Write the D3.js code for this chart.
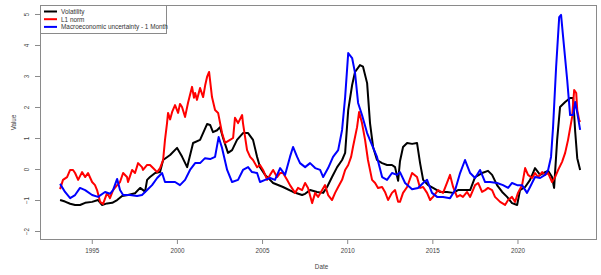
<!DOCTYPE html>
<html><head><meta charset="utf-8">
<script src="https://cdn.jsdelivr.net/npm/d3@7"></script>
<style>body{margin:0;background:#fff}svg{display:block;font-family:"Liberation Sans",Arial,sans-serif}</style>
</head><body><svg id="c" width="601" height="275"></svg>
<script>
const seriesNames = ["Volatility", "L1 norm", "Macroeconomic uncertainty - 1 Month"];
const seriesColors = ["#000000", "#ff0000", "#0000ff"];
const xTicks = [1995, 2000, 2005, 2010, 2015, 2020];
const yTicks = [-2, -1, 0, 1, 2, 3, 4, 5];

const volatility = [
[1993.14,-1.0],[1993.43,-1.05],[1993.73,-1.12],[1994.02,-1.16],[1994.31,-1.16],[1994.61,-1.09],[1995.02,-1.06],
[1995.37,-1.0],[1995.60,-1.16],[1995.90,-1.11],[1996.20,-1.09],[1996.49,-1.0],[1996.78,-0.87],[1997.13,-0.84],
[1997.54,-0.78],[1997.84,-0.61],[1998.13,-0.73],[1998.25,-0.35],[1998.42,-0.26],[1998.72,-0.13],[1999.01,-0.10],
[1999.19,0.29],[1999.60,0.45],[2000.01,0.68],[2000.30,0.40],[2000.60,0.06],[2000.95,0.84],[2001.36,0.94],
[2001.77,1.45],[2001.95,1.42],[2002.12,1.19],[2002.36,1.25],[2002.53,1.35],[2002.71,1.0],[2003.00,0.52],
[2003.24,0.61],[2003.53,0.94],[2003.88,1.16],[2004.18,1.16],[2004.47,0.94],[2004.71,0.39],[2004.88,0.06],
[2005.18,-0.19],[2005.65,-0.45],[2006.23,-0.58],[2006.82,-0.74],[2007.35,-0.84],[2007.53,-0.80],[2007.82,-0.68],
[2008.23,-0.74],[2008.59,-0.77],[2008.82,-0.58],[2009.11,-0.26],[2009.41,0.06],[2009.70,0.29],[2009.88,0.52],
[2010.06,1.9],[2010.29,2.71],[2010.46,3.13],[2010.75,3.35],[2010.93,3.30],[2011.17,2.77],[2011.34,1.48],
[2011.52,0.71],[2011.75,0.29],[2012.05,0.19],[2012.34,0.13],[2012.63,0.13],[2012.81,0.06],[2012.99,-0.38],
[2013.10,0.25],[2013.28,0.71],[2013.52,0.84],[2013.81,0.81],[2014.10,0.84],[2014.28,0.19],[2014.46,-0.35],
[2014.75,-0.52],[2015.04,-0.61],[2015.45,-0.74],[2015.86,-0.74],[2016.22,-0.77],[2016.51,-0.68],[2016.92,-0.68],
[2017.22,-0.68],[2017.51,-0.26],[2017.92,-0.13],[2018.27,-0.06],[2018.51,-0.19],[2018.80,-0.52],[2019.10,-0.74],
[2019.39,-0.9],[2019.68,-1.1],[2019.98,-1.16],[2020.15,-0.68],[2020.45,-0.58],[2020.74,-0.35],[2021.03,0.03],
[2021.33,-0.19],[2021.62,-0.10],[2021.80,-0.06],[2022.03,-0.26],[2022.15,-0.61],[2022.33,0.94],[2022.50,2.0],
[2022.80,2.16],[2023.09,2.29],[2023.27,2.29],[2023.39,1.2],[2023.51,0.35],[2023.68,-0.03]
];

const l1norm = [
[1993.14,-0.65],[1993.31,-0.35],[1993.55,-0.26],[1993.73,-0.03],[1993.90,-0.03],[1994.02,-0.13],[1994.20,-0.35],
[1994.43,-0.10],[1994.61,-0.26],[1994.78,-0.13],[1995.02,-0.42],[1995.19,-0.52],[1995.31,-0.68],[1995.49,-1.06],
[1995.66,-1.13],[1995.90,-0.77],[1996.07,-0.94],[1996.25,-0.68],[1996.49,-0.52],[1996.66,-0.42],[1996.84,-0.13],
[1997.07,-0.26],[1997.13,-0.42],[1997.37,-0.03],[1997.54,-0.13],[1997.72,0.19],[1997.95,0.06],[1998.01,-0.03],
[1998.25,0.13],[1998.42,0.13],[1998.60,0.03],[1998.84,-0.10],[1999.01,0.03],[1999.19,0.29],[1999.30,0.94],
[1999.42,1.48],[1999.48,1.81],[1999.60,1.6],[1999.72,1.84],[1999.89,2.06],[2000.07,1.81],[2000.18,2.1],[2000.30,2.0],[2000.48,1.68],
[2000.65,2.13],[2000.89,2.65],[2001.00,2.3],[2001.07,2.45],[2001.18,2.23],[2001.36,2.61],[2001.54,2.32],[2001.66,2.7],[2001.77,2.97],
[2001.89,3.13],[2002.06,2.32],[2002.24,1.9],[2002.42,1.81],[2002.65,1.16],[2002.83,0.84],[2003.12,0.94],
[2003.30,1.0],[2003.41,1.65],[2003.59,1.48],[2003.83,1.74],[2003.88,1.48],[2004.12,0.61],[2004.30,0.39],
[2004.47,0.29],[2004.71,0.06],[2004.88,0.13],[2005.06,-0.03],[2005.30,-0.35],[2005.47,-0.19],[2005.65,-0.03],
[2005.88,-0.26],[2006.06,-0.13],[2006.23,-0.13],[2006.47,-0.35],[2006.64,-0.52],[2006.94,-0.77],[2007.11,-0.61],
[2007.35,-0.68],[2007.53,-0.45],[2007.70,-0.61],[2007.94,-1.1],[2008.12,-0.77],[2008.29,-0.9],[2008.53,-0.68],
[2008.70,-0.52],[2008.88,-0.84],[2009.11,-1.0],[2009.29,-0.77],[2009.47,-0.58],[2009.70,-0.35],[2009.88,-0.03],
[2010.06,0.13],[2010.23,0.39],[2010.34,0.71],[2010.58,1.35],[2010.70,1.84],[2010.87,1.48],[2011.05,0.94],
[2011.22,0.29],[2011.46,-0.35],[2011.64,-0.45],[2011.81,-0.61],[2012.05,-0.58],[2012.22,-0.74],[2012.40,-1.0],
[2012.63,-0.77],[2012.81,-0.68],[2012.99,-1.06],[2013.10,-1.06],[2013.28,-0.77],[2013.52,-0.58],[2013.81,-0.13],
[2014.10,-0.26],[2014.28,-0.61],[2014.46,-0.58],[2014.69,-0.77],[2014.87,-1.0],[2015.04,-0.90],[2015.34,-0.68],
[2015.63,-0.77],[2015.86,-0.45],[2016.04,-0.19],[2016.22,-0.58],[2016.45,-0.9],[2016.63,-0.84],[2016.80,-0.9],
[2017.04,-0.74],[2017.22,-0.9],[2017.51,-0.52],[2017.69,-0.45],[2017.92,-0.74],[2018.10,-0.68],[2018.27,-0.61],
[2018.51,-0.68],[2018.68,-0.9],[2018.98,-1.06],[2019.27,-1.16],[2019.45,-1.0],[2019.68,-0.90],[2019.86,-1.06],
[2020.03,-0.77],[2020.27,-0.52],[2020.45,0.03],[2020.62,-0.19],[2020.86,-0.29],[2021.03,-0.13],[2021.21,-0.26],
[2021.45,-0.10],[2021.62,-0.19],[2021.80,-0.13],[2022.03,-0.42],[2022.21,-0.26],[2022.39,-0.03],[2022.62,0.23],
[2022.80,0.52],[2022.97,0.94],[2023.21,1.68],[2023.33,2.55],[2023.45,2.45],[2023.51,1.9],[2023.62,1.58],[2023.68,1.52]
];

const macroUncertainty = [
[1993.14,-0.48],[1993.43,-0.74],[1993.73,-0.94],[1994.02,-0.84],[1994.31,-0.61],[1994.61,-0.68],[1995.02,-0.84],
[1995.37,-0.9],[1995.78,-0.74],[1996.07,-0.80],[1996.25,-0.68],[1996.49,-0.32],[1996.66,-0.68],[1996.84,-0.84],
[1997.25,-0.84],[1997.66,-0.87],[1997.95,-0.84],[1998.25,-0.68],[1998.54,-0.52],[1998.84,-0.29],[1999.13,-0.13],
[1999.30,-0.42],[1999.60,-0.42],[1999.89,-0.42],[2000.18,-0.52],[2000.48,-0.35],[2000.77,-0.03],[2001.07,0.19],
[2001.36,0.19],[2001.65,0.35],[2001.95,0.32],[2002.24,0.39],[2002.45,1.03],[2002.65,0.68],[2002.95,-0.03],
[2003.24,-0.42],[2003.59,-0.35],[2003.88,-0.03],[2004.18,0.06],[2004.41,-0.10],[2004.71,-0.13],[2004.88,-0.42],
[2005.18,-0.35],[2005.47,-0.29],[2005.76,-0.35],[2006.06,0.03],[2006.35,-0.19],[2006.64,0.39],[2006.82,0.71],
[2007.06,0.39],[2007.23,0.19],[2007.53,0.06],[2007.82,0.19],[2008.12,0.03],[2008.41,-0.03],[2008.59,-0.26],
[2008.88,0.03],[2009.17,0.39],[2009.47,0.61],[2009.70,1.26],[2009.88,2.32],[2010.06,3.74],[2010.29,3.58],
[2010.46,3.10],[2010.64,2.13],[2010.87,1.74],[2011.17,1.16],[2011.46,0.77],[2011.75,0.39],[2012.05,-0.26],
[2012.34,-0.35],[2012.63,-0.13],[2012.93,-0.19],[2013.10,-0.10],[2013.40,-0.45],[2013.81,-0.65],[2014.16,-0.61],
[2014.46,-0.45],[2014.69,-0.35],[2014.98,-0.77],[2015.28,-0.9],[2015.63,-0.9],[2016.04,-0.94],[2016.34,-0.68],
[2016.63,-0.13],[2016.92,0.29],[2017.22,-0.13],[2017.51,-0.29],[2017.80,-0.03],[2018.10,-0.42],[2018.39,-0.42],
[2018.80,-0.45],[2019.15,-0.52],[2019.45,-0.61],[2019.68,-0.45],[2019.98,-0.52],[2020.27,-0.52],[2020.56,-0.77],
[2020.74,-0.58],[2021.03,-0.26],[2021.33,-0.29],[2021.62,-0.19],[2021.80,-0.03],[2021.97,0.39],[2022.09,1.35],
[2022.27,3.3],[2022.45,4.9],[2022.56,4.97],[2022.68,4.26],[2022.92,2.87],[2023.09,1.74],[2023.27,1.74],
[2023.39,2.16],[2023.51,1.81],[2023.68,1.26]
];

const allSeries = [volatility, l1norm, macroUncertainty];

const svg = d3.select("#c");
const L = 40, R = 597, T = 5, B = 240;
const x = d3.scaleLinear().domain([1991.96, 2024.67]).range([L, R]);
const y = d3.scaleLinear().domain([-2.29, 5.29]).range([B, T]);

const line = d3.line().x(d => x(d[0])).y(d => y(d[1])).curve(d3.curveLinear);

svg.append("g").selectAll("path").data(allSeries).join("path")
  .attr("d", line).attr("fill", "none")
  .attr("stroke", (d, i) => seriesColors[i]).attr("stroke-width", 2)
  .attr("stroke-linejoin", "round");

// frame
svg.append("rect").attr("x", L + 0.5).attr("y", T + 0.5).attr("width", R - L - 1).attr("height", B - T - 1)
  .attr("fill", "none").attr("stroke", "#8a8a8a").attr("stroke-width", 1);

// x axis
const xa = svg.append("g").attr("transform", `translate(0,${B})`)
  .call(d3.axisBottom(x).tickValues(xTicks).tickFormat(d3.format("d")).tickSize(4).tickPadding(5));
xa.select(".domain").remove();
xa.selectAll("line").attr("stroke", "#8a8a8a");
xa.selectAll("text").attr("font-size", 6.3).attr("fill", "#444").attr("font-family", "Liberation Sans, Arial");

// y axis
const ya = svg.append("g").attr("transform", `translate(${L},0)`)
  .call(d3.axisLeft(y).tickValues(yTicks).tickFormat(d3.format("d")).tickSize(5));
ya.select(".domain").remove();
ya.selectAll("line").attr("stroke", "#8a8a8a");
ya.selectAll("text").attr("font-size", 6.3).attr("fill", "#444").attr("font-family", "Liberation Sans, Arial")
  .attr("x", null).attr("dy", null).attr("text-anchor", "middle")
  .attr("transform", "translate(-11,0) rotate(-90)");

// axis titles
svg.append("text").attr("x", (L + R) / 2 + 3).attr("y", 269).attr("text-anchor", "middle")
  .attr("font-size", 6.3).attr("fill", "#444").text("Date");
svg.append("text").attr("transform", `translate(16,${(T + B) / 2}) rotate(-90)`).attr("text-anchor", "middle")
  .attr("font-size", 6.3).attr("fill", "#444").text("Value");

// legend
const lg = svg.append("g");
lg.append("rect").attr("x", L + 0.5).attr("y", T + 0.5).attr("width", 126).attr("height", 28)
  .attr("fill", "#fff").attr("stroke", "#8a8a8a");
seriesNames.forEach((n, i) => {
  const yy = T + 6.5 + i * 7.7;
  lg.append("line").attr("x1", L + 4).attr("x2", L + 17).attr("y1", yy).attr("y2", yy)
    .attr("stroke", seriesColors[i]).attr("stroke-width", 2);
  lg.append("text").attr("x", L + 21).attr("y", yy + 2.3).attr("font-size", 6.4).attr("fill", "#333").text(n);
});
</script></body></html>
